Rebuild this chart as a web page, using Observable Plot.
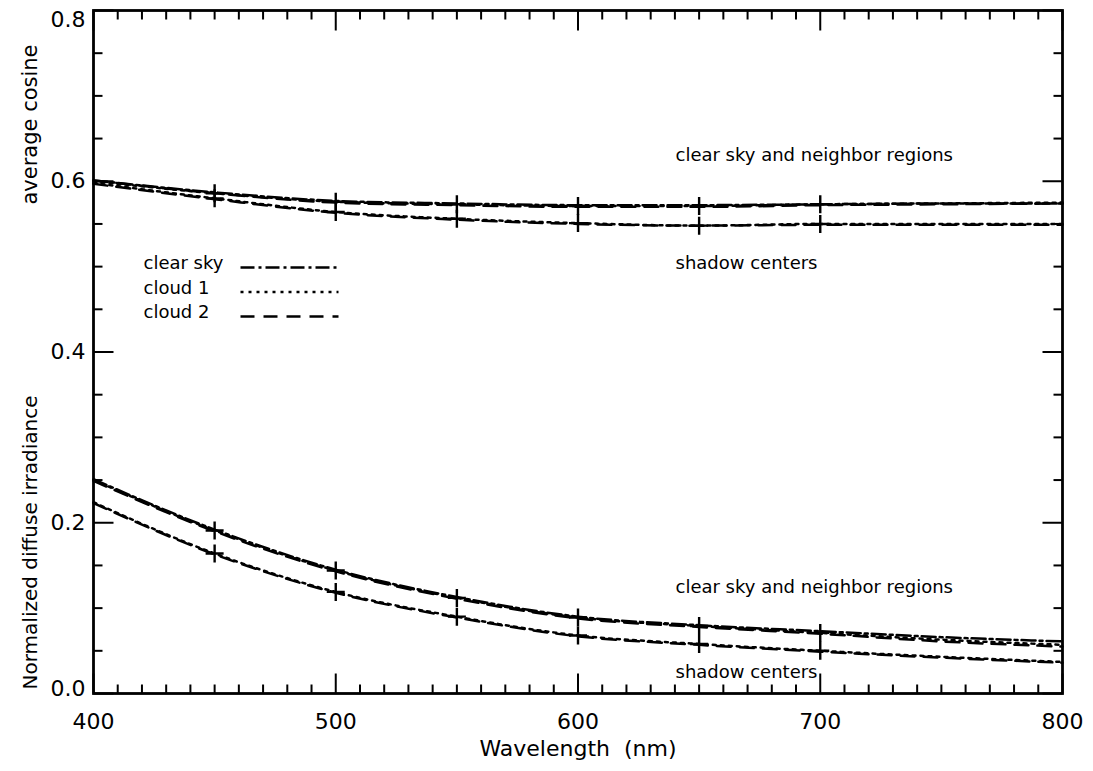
<!DOCTYPE html>
<html>
<head>
<meta charset="utf-8">
<script src="https://cdn.jsdelivr.net/npm/d3@7"></script>
<script src="https://cdn.jsdelivr.net/npm/@observablehq/plot@0.6"></script>
<style>
  html, body { margin: 0; padding: 0; background: #fff; }
  #chart svg { display: block; }
</style>
</head>
<body>
<div id="chart"></div>
<script>
// ---- data ----
const wavelengths = [400, 450, 500, 550, 600, 650, 700, 750, 800];

// average cosine
const cosClearSky   = [0.601, 0.587, 0.577, 0.574, 0.572, 0.572, 0.573, 0.574, 0.574];
const cosCloud1Nbr  = [0.600, 0.586, 0.576, 0.573, 0.571, 0.571, 0.573, 0.574, 0.575];
const cosCloud2Nbr  = [0.601, 0.586, 0.575, 0.572, 0.570, 0.570, 0.572, 0.573, 0.574];
const cosCloud1Shd  = [0.598, 0.580, 0.564, 0.556, 0.551, 0.548, 0.550, 0.550, 0.550];
const cosCloud2Shd  = [0.597, 0.579, 0.563, 0.555, 0.550, 0.548, 0.549, 0.549, 0.549];

// normalized diffuse irradiance
const irrClearSky   = [0.251, 0.192, 0.145, 0.113, 0.090, 0.080, 0.073, 0.066, 0.061];
const irrCloud1Nbr  = [0.250, 0.191, 0.144, 0.112, 0.089, 0.079, 0.071, 0.063, 0.057];
const irrCloud2Nbr  = [0.249, 0.190, 0.143, 0.111, 0.088, 0.078, 0.070, 0.061, 0.055];
const irrCloud1Shd  = [0.224, 0.164, 0.119, 0.090, 0.068, 0.058, 0.050, 0.043, 0.037];
const irrCloud2Shd  = [0.223, 0.163, 0.118, 0.089, 0.067, 0.057, 0.049, 0.042, 0.036];

// wavelengths carrying "+" markers
const markerWavelengths = [450, 500, 550, 600, 650, 700];

const legendNames = ["clear sky", "cloud 1", "cloud 2"];
const xTickLabels = [400, 500, 600, 700, 800];
const yTickLabels = [0.0, 0.2, 0.4, 0.6, 0.8];
const xTitle = "Wavelength\u00a0\u00a0(nm)";
const yTitleLower = "Normalized diffuse irradiance";
const yTitleUpper = "average cosine";
const annoNeighbor = "clear sky and neighbor regions";
const annoShadow = "shadow centers";

// ---- styles ----
const dash = {"clear sky": "14,4,3,4", "cloud 1": "3,5", "cloud 2": "14,9"};
const FONT = "DejaVu Sans";
const LW = 2.5;

const series = [
  {name: "clear sky", values: cosClearSky},
  {name: "cloud 1", values: cosCloud1Nbr},
  {name: "cloud 2", values: cosCloud2Nbr},
  {name: "cloud 1", values: cosCloud1Shd},
  {name: "cloud 2", values: cosCloud2Shd},
  {name: "clear sky", values: irrClearSky},
  {name: "cloud 1", values: irrCloud1Nbr},
  {name: "cloud 2", values: irrCloud2Nbr},
  {name: "cloud 1", values: irrCloud1Shd},
  {name: "cloud 2", values: irrCloud2Shd}
];
const markedSeries = [cosCloud1Nbr, cosCloud1Shd, irrCloud1Nbr, irrCloud1Shd];

const toRows = (vals) => wavelengths.map((w, i) => ({w, v: vals[i]}));
const markerRows = markedSeries.flatMap(vals =>
  markerWavelengths.map(w => ({w, v: vals[wavelengths.indexOf(w)]})));

// custom symbols
const seg = (dx, dy) => ({draw(ctx) { ctx.moveTo(0, 0); ctx.lineTo(dx, dy); }});
const cross = (h) => ({draw(ctx) { ctx.moveTo(-h, 0); ctx.lineTo(h, 0); ctx.moveTo(0, -h); ctx.lineTo(0, h); }});

const xMinor = d3.range(0, 41).map(i => 400 + i * 10);
const yMinor = d3.range(0, 17).map(i => +(i * 0.05).toFixed(2));
const xMaj = xMinor.filter(v => v % 100 === 0), xMin = xMinor.filter(v => v % 100 !== 0);
const yMaj = yMinor.filter((v, i) => i % 4 === 0), yMin = yMinor.filter((v, i) => i % 4 !== 0);
const MAJ = 20, MIN = 9;

const tickDot = (data, opts, sym) => Plot.dot(data, {...opts, symbol: sym, r: 3, fill: "none", stroke: "black", strokeWidth: 2});

const marks = [];
// ticks (inward, all four sides)
marks.push(tickDot(xMaj, {x: d => d, frameAnchor: "bottom"}, seg(0, -MAJ)));
marks.push(tickDot(xMin, {x: d => d, frameAnchor: "bottom"}, seg(0, -MIN)));
marks.push(tickDot(xMaj, {x: d => d, frameAnchor: "top"}, seg(0, MAJ)));
marks.push(tickDot(xMin, {x: d => d, frameAnchor: "top"}, seg(0, MIN)));
marks.push(tickDot(yMaj, {y: d => d, frameAnchor: "left"}, seg(MAJ, 0)));
marks.push(tickDot(yMin, {y: d => d, frameAnchor: "left"}, seg(MIN, 0)));
marks.push(tickDot(yMaj, {y: d => d, frameAnchor: "right"}, seg(-MAJ, 0)));
marks.push(tickDot(yMin, {y: d => d, frameAnchor: "right"}, seg(-MIN, 0)));

// tick labels
marks.push(Plot.axisX({ticks: xTickLabels, tickSize: 0, tickPadding: 20, fontSize: 22, label: null}));
const yfmt = d3.format(".1f");
marks.push(Plot.axisY({ticks: yTickLabels.filter(v => v > 0 && v < 0.8), tickFormat: yfmt, tickSize: 0, tickPadding: 8, fontSize: 22, label: null}));
marks.push(Plot.axisY({ticks: [yTickLabels[yTickLabels.length - 1]], tickFormat: yfmt, tickSize: 0, tickPadding: 8, fontSize: 22, label: null, dy: 9}));
marks.push(Plot.axisY({ticks: [yTickLabels[0]], tickFormat: yfmt, tickSize: 0, tickPadding: 8, fontSize: 22, label: null, dy: -5}));

// series lines
for (const s of series) {
  marks.push(Plot.line(toRows(s.values), {
    x: "w", y: "v", curve: "monotone-x", stroke: "black",
    strokeWidth: LW, strokeDasharray: dash[s.name]
  }));
}
// + markers
marks.push(Plot.dot(markerRows, {x: "w", y: "v", symbol: cross(9), r: 3, fill: "none", stroke: "black", strokeWidth: 2.4}));

// frame
marks.push(Plot.frame({stroke: "black", strokeWidth: 2.8}));

// legend
legendNames.forEach((name, i) => {
  marks.push(Plot.text([name], {frameAnchor: "top-left", dx: 50, dy: 253 + i * 24.5, textAnchor: "start", lineAnchor: "middle", fontSize: 18}));
  marks.push(Plot.dot([name], {frameAnchor: "top-left", dx: 147, dy: 257 + i * 24.5, symbol: seg(98, 0), r: 3, fill: "none", stroke: "black", strokeWidth: LW, strokeDasharray: dash[name]}));
});

// annotations
const annos = [[annoNeighbor, 145], [annoShadow, 253], [annoNeighbor, 577], [annoShadow, 662]];
for (const [t, dy] of annos) {
  marks.push(Plot.text([t], {frameAnchor: "top-left", dx: 582, dy, textAnchor: "start", lineAnchor: "middle", fontSize: 18}));
}

// axis titles
marks.push(Plot.text([xTitle], {frameAnchor: "bottom", dy: 55, lineAnchor: "middle", fontSize: 22}));
marks.push(Plot.text([yTitleLower], {frameAnchor: "top-left", dx: -63, dy: 532, rotate: -90, textAnchor: "middle", lineAnchor: "middle", fontSize: 20}));
marks.push(Plot.text([yTitleUpper], {frameAnchor: "top-left", dx: -63, dy: 114, rotate: -90, textAnchor: "middle", lineAnchor: "middle", fontSize: 21}));

const chart = Plot.plot({
  width: 1093,
  height: 771,
  marginLeft: 93,
  marginRight: 31,
  marginTop: 10,
  marginBottom: 78,
  style: {fontFamily: FONT, color: "black", background: "white", overflow: "visible"},
  x: {domain: [400, 800]},
  y: {domain: [0, 0.8]},
  marks
});
document.getElementById("chart").appendChild(chart);
</script>
</body>
</html>
